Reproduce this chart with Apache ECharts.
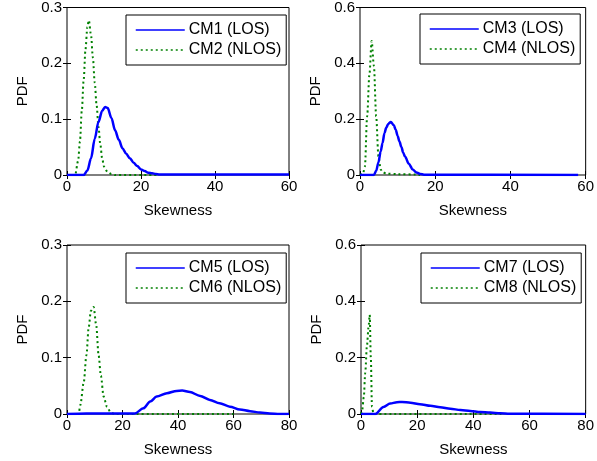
<!DOCTYPE html>
<html>
<head>
<meta charset="utf-8">
<script src="https://cdn.jsdelivr.net/npm/echarts@6/dist/echarts.min.js"></script>
<style>
  html, body { margin: 0; padding: 0; background: #fff; }
  #chart { width: 597px; height: 461px; }
</style>
</head>
<body>
<div id="chart"></div>
<script>
// skewness PDFs
var cm1X = [0, 4.5, 5.5, 6.5, 7.5, 8.5, 9.5, 10.3, 11, 12, 13, 14, 15, 16, 17, 18, 19, 20, 21, 22, 23, 24, 25, 60]
var cm1Y = [0, 0, 0.008, 0.03, 0.065, 0.095, 0.115, 0.122, 0.12, 0.102, 0.08, 0.063, 0.048, 0.038, 0.03, 0.022, 0.016, 0.01, 0.007, 0.004, 0.003, 0.002, 0.001, 0.001]
var cm2X = [0, 2.2, 3, 3.5, 4, 4.5, 5, 5.5, 5.9, 6.5, 7, 7.5, 8, 8.5, 9, 9.5, 10, 11, 12, 13, 25]
var cm2Y = [0, 0, 0.025, 0.06, 0.115, 0.17, 0.225, 0.265, 0.277, 0.25, 0.21, 0.165, 0.125, 0.087, 0.055, 0.03, 0.015, 0.005, 0.002, 0, 0]

var cm3X = [0, 3.7, 4.3, 4.9, 5.5, 6, 6.5, 7, 7.5, 8.2, 9, 9.5, 10, 10.5, 11, 11.5, 12, 13, 14, 15, 16, 17, 58]
var cm3Y = [0, 0, 0.015, 0.045, 0.085, 0.115, 0.15, 0.17, 0.183, 0.19, 0.178, 0.162, 0.14, 0.12, 0.1, 0.08, 0.065, 0.04, 0.02, 0.009, 0.004, 0.001, 0]
var cm4X = [0, 0.8, 1.3, 1.9, 2.5, 3.1, 3.7, 4.3, 4.9, 5.5, 6, 7, 10, 15, 16]
var cm4Y = [0, 0.005, 0.03, 0.21, 0.36, 0.48, 0.39, 0.21, 0.067, 0.02, 0.01, 0.005, 0.003, 0.002, 0]

var cm5X = [0, 7, 24.5, 27.5, 30, 32.3, 36, 39.5, 41.5, 44.3, 48, 51.5, 55, 58.7, 62.3, 66, 69.5, 73, 76.6, 80]
var cm5Y = [0, 0.001, 0.001, 0.01, 0.022, 0.031, 0.037, 0.041, 0.0415, 0.039, 0.032, 0.025, 0.019, 0.013, 0.008, 0.005, 0.0025, 0.001, 0, 0]
var cm6X = [0, 4.2, 4.8, 6, 7, 7.8, 8.6, 9.6, 10.5, 11.4, 12.2, 13.2, 14.4, 15.6, 17, 60]
var cm6Y = [0, 0, 0.016, 0.055, 0.104, 0.153, 0.183, 0.19, 0.159, 0.104, 0.068, 0.031, 0.013, 0.004, 0, 0]

var cm7X = [0, 5.1, 8, 10.4, 12.8, 14.6, 17.6, 21, 24.7, 28.2, 31.8, 35.4, 38.9, 42.5, 46, 49.6, 53, 80]
var cm7Y = [0, 0, 0.025, 0.037, 0.042, 0.043, 0.04, 0.035, 0.029, 0.024, 0.019, 0.014, 0.011, 0.007, 0.005, 0.0025, 0.001, 0]
var cm8X = [0, 0.4, 1, 1.5, 2.1, 2.7, 3.1, 3.5, 3.9, 4.5, 50]
var cm8Y = [0, 0.013, 0.06, 0.145, 0.24, 0.31, 0.352, 0.2, 0.025, 0, 0]

var losNames = ['CM1 (LOS)', 'CM3 (LOS)', 'CM5 (LOS)', 'CM7 (LOS)']
var nlosNames = ['CM2 (NLOS)', 'CM4 (NLOS)', 'CM6 (NLOS)', 'CM8 (NLOS)']
var losX = [cm1X, cm3X, cm5X, cm7X]
var losY = [cm1Y, cm3Y, cm5Y, cm7Y]
var nlosX = [cm2X, cm4X, cm6X, cm8X]
var nlosY = [cm2Y, cm4Y, cm6Y, cm8Y]
var xMax = [60, 60, 80, 80]
var yMax = [0.3, 0.6, 0.3, 0.6]
var yStep = [0.1, 0.2, 0.1, 0.2]

var FONT = 'Liberation Sans, Arial, sans-serif'
var grids = [
  { left: 67, top: 7, width: 222, height: 168 },
  { left: 360, top: 6, width: 226, height: 169 },
  { left: 67, top: 245, width: 222, height: 169 },
  { left: 361, top: 245, width: 225, height: 169 }
]

function pairs(xs, ys) {
  return xs.map(function (x, i) { return [x, ys[i]] })
}

var xAxes = []
var yAxes = []
var series = []
var legends = []

grids.forEach(function (g, i) {
  g.show = true
  g.borderColor = '#000'
  g.borderWidth = 1
  g.backgroundColor = '#fff'

  xAxes.push({
    gridIndex: i, type: 'value', min: 0, max: xMax[i], interval: 20,
    name: 'Skewness', nameLocation: 'middle', nameGap: 28,
    nameTextStyle: { color: '#000', fontSize: 15, fontFamily: FONT },
    axisLine: { show: false },
    axisTick: { show: true, inside: true, length: 4, lineStyle: { color: '#000' } },
    axisLabel: { color: '#000', fontSize: 15, fontFamily: FONT, margin: 4 },
    splitLine: { show: false }
  })
  yAxes.push({
    gridIndex: i, type: 'value', min: 0, max: yMax[i], interval: yStep[i],
    name: 'PDF', nameLocation: 'middle', nameGap: 37,
    nameTextStyle: { color: '#000', fontSize: 15, fontFamily: FONT },
    axisLine: { show: false },
    axisTick: { show: true, inside: true, length: 4, lineStyle: { color: '#000' } },
    axisLabel: { color: '#000', fontSize: 15, fontFamily: FONT, margin: 5 },
    splitLine: { show: false }
  })

  series.push({
    name: losNames[i], type: 'line', xAxisIndex: i, yAxisIndex: i,
    data: pairs(losX[i], losY[i]), symbol: 'none', smooth: 0.3, smoothMonotone: 'x',
    lineStyle: { color: '#0000ff', width: 2.5 }, itemStyle: { color: '#0000ff' },
    z: 3
  })
  series.push({
    name: nlosNames[i], type: 'line', xAxisIndex: i, yAxisIndex: i,
    data: pairs(nlosX[i], nlosY[i]), symbol: 'none', smooth: 0.3, smoothMonotone: 'x',
    lineStyle: { color: '#008000', width: 2, type: [2, 3] }, itemStyle: { color: '#008000' },
    z: 2
  })

  legends.push({
    data: [losNames[i], nlosNames[i]],
    orient: 'vertical',
    left: g.left + (i % 2 === 0 ? 59 : 60),
    top: g.top + 8,
    padding: [7, 5, 7, 9],
    itemGap: 4,
    itemWidth: 49,
    itemHeight: 16,
    backgroundColor: '#fff',
    borderColor: '#000',
    borderWidth: 1,
    borderRadius: 0,
    selectedMode: false,
    itemStyle: { opacity: 0 },
    lineStyle: { width: 1.5 },
    textStyle: { color: '#000', fontSize: 16, fontFamily: FONT, padding: [0, 0, 0, -1] }
  })
})

// ticks on top and right of each box, like a MATLAB box
grids.forEach(function (g, i) {
  xAxes.push({
    gridIndex: i, type: 'value', position: 'top', min: 0, max: xMax[i], interval: 20,
    axisLine: { show: false },
    axisTick: { show: true, inside: true, length: 4, lineStyle: { color: '#000' } },
    axisLabel: { show: false }, splitLine: { show: false }
  })
  yAxes.push({
    gridIndex: i, type: 'value', position: 'right', min: 0, max: yMax[i], interval: yStep[i],
    axisLine: { show: false },
    axisTick: { show: true, inside: true, length: 4, lineStyle: { color: '#000' } },
    axisLabel: { show: false }, splitLine: { show: false }
  })
})

var chart = echarts.init(document.getElementById('chart'), null, { renderer: 'canvas' })
chart.setOption({
  animation: false,
  backgroundColor: '#fff',
  grid: grids,
  xAxis: xAxes,
  yAxis: yAxes,
  legend: legends,
  series: series
})
</script>
</body>
</html>
